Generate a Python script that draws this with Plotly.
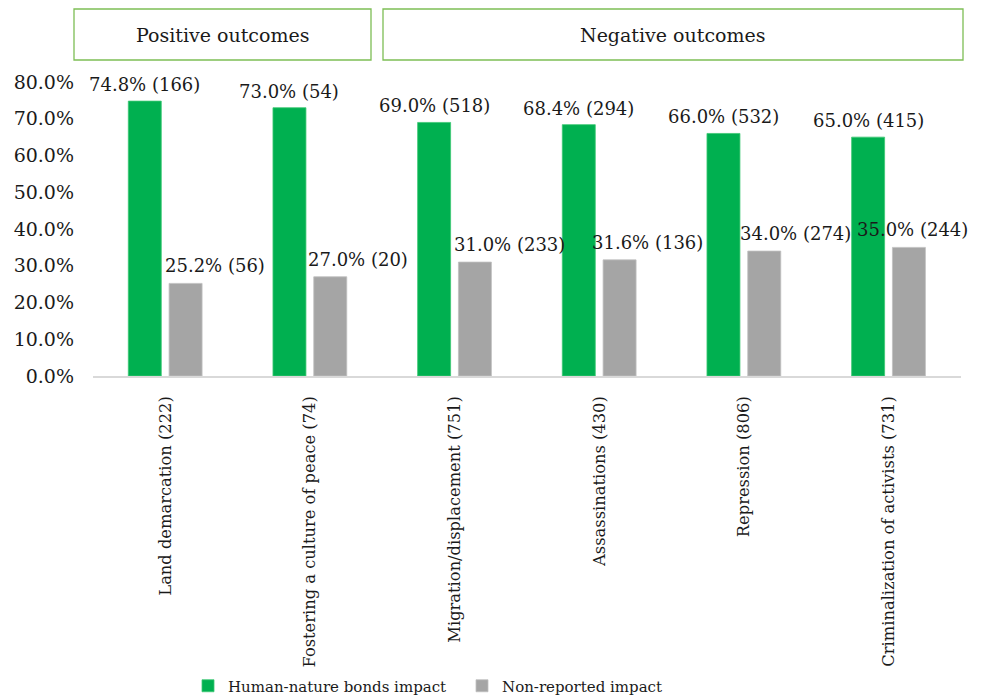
import plotly.graph_objects as go

# Outcome categories with total case counts
categories = [
    "Land demarcation (222)",
    "Fostering a culture of peace (74)",
    "Migration/displacement (751)",
    "Assassinations (430)",
    "Repression (806)",
    "Criminalization of activists (731)",
]
# Share of cases (%) and counts per series
bonds_pct = [74.8, 73.0, 69.0, 68.4, 66.0, 65.0]
bonds_n = [166, 54, 518, 294, 532, 415]
nonrep_pct = [25.2, 27.0, 31.0, 31.6, 34.0, 35.0]
nonrep_n = [56, 20, 233, 136, 274, 244]

y_ticks = [0.0, 0.1, 0.2, 0.3, 0.4, 0.5, 0.6, 0.7, 0.8]

GREEN = "#00B050"
GREY = "#A5A5A5"
FONT = "DejaVu Serif"
INK = "#1a1a1a"

# bar geometry in category units
BAR_W = 0.228
GREEN_OFF = -0.256
GREY_OFF = 0.026
# horizontal nudge (px) of the grey value labels
grey_label_dx = [29, 28, 35, 28, 31, 4]

fig = go.Figure()
fig.add_trace(go.Bar(
    x=categories, y=[v / 100 for v in bonds_pct], name="Human-nature bonds impact",
    marker=dict(color=GREEN, line=dict(color="#3CC873", width=0.8)),
    width=BAR_W, offset=GREEN_OFF,
))
fig.add_trace(go.Bar(
    x=categories, y=[v / 100 for v in nonrep_pct], name="Non-reported impact",
    marker=dict(color=GREY, line=dict(color="#C0C0C0", width=0.8)),
    width=BAR_W, offset=GREY_OFF,
))

annotations = []
for i in range(len(categories)):
    annotations.append(dict(
        x=i + GREEN_OFF + BAR_W / 2, y=bonds_pct[i] / 100, xref="x", yref="y",
        text=f"{bonds_pct[i]:.1f}% ({bonds_n[i]})", showarrow=False,
        yanchor="bottom", xanchor="center", yshift=4,
        font=dict(family=FONT, size=18, color=INK),
    ))
    annotations.append(dict(
        x=i + GREY_OFF + BAR_W / 2, y=nonrep_pct[i] / 100, xref="x", yref="y",
        text=f"{nonrep_pct[i]:.1f}% ({nonrep_n[i]})", showarrow=False,
        yanchor="bottom", xanchor="center", yshift=5, xshift=grey_label_dx[i],
        font=dict(family=FONT, size=18, color=INK),
    ))

# group header boxes above the plot
plot_l, plot_r, plot_t, plot_b = 93, 961, 82, 376
pw, ph = plot_r - plot_l, plot_b - plot_t


def px_x(p):
    return (p - plot_l) / pw


def px_y(p):
    return (plot_b - p) / ph


headers = [("Positive outcomes", 74, 371), ("Negative outcomes", 383, 963)]
shapes = []
for label, x0, x1 in headers:
    shapes.append(dict(
        type="rect", xref="paper", yref="paper",
        x0=px_x(x0), x1=px_x(x1), y0=px_y(60), y1=px_y(9),
        line=dict(color="#7DBE55", width=1.3), fillcolor="white",
    ))
    annotations.append(dict(
        x=(px_x(x0) + px_x(x1)) / 2, y=px_y(35), xref="paper", yref="paper",
        text=label, showarrow=False, xanchor="center", yanchor="middle",
        font=dict(family=FONT, size=19, color=INK),
    ))

fig.update_layout(
    width=988, height=699,
    margin=dict(l=plot_l, r=988 - plot_r, t=plot_t, b=699 - plot_b),
    plot_bgcolor="white", paper_bgcolor="white",
    font=dict(family=FONT, size=16, color=INK),
    showlegend=True,
    legend=dict(
        orientation="h", xref="paper", x=px_x(188), xanchor="left",
        yref="container", y=(699 - 686) / 699, yanchor="middle",
        font=dict(family=FONT, size=15, color=INK),
        bgcolor="rgba(0,0,0,0)",
        entrywidth=229, entrywidthmode="pixels", itemclick=False,
    ),
    annotations=annotations,
    shapes=shapes,
    bargap=0.5,
)
fig.update_xaxes(
    type="category", showline=True, linecolor="#D9D9D9", linewidth=1.5,
    showgrid=False, ticks="", tickangle=-90, ticklabelstandoff=12,
    tickfont=dict(family=FONT, size=16.3, color=INK),
    range=[-0.5, len(categories) - 0.5], automargin=False,
)
fig.update_yaxes(
    range=[0, 0.8], tickvals=y_ticks, tickformat=".1%", showgrid=False,
    zeroline=False, showline=False, ticks="", ticklabelstandoff=18,
    tickfont=dict(family=FONT, size=19, color=INK), automargin=False,
)

fig.write_html("out.html")
